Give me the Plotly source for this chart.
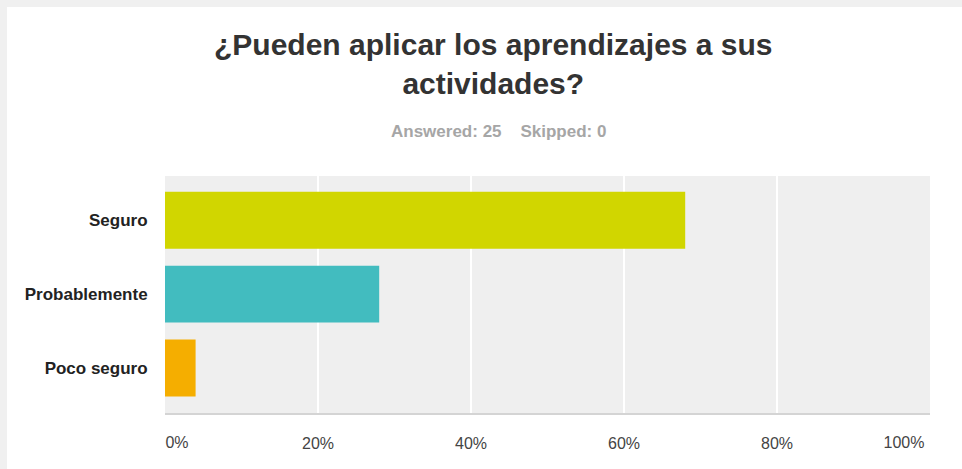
import plotly.graph_objects as go

categories = ["Seguro", "Probablemente", "Poco seguro"]
values = [68, 28, 4]
colors = ["#d1d600", "#42bcbf", "#f5ae00"]
tick_vals = [0, 20, 40, 60, 80, 100]
tick_labels = ["0%", "20%", "40%", "60%", "80%", "100%"]
title_text = "¿Pueden aplicar los aprendizajes a sus<br>actividades?"
subtitle_text = "Answered: 25&nbsp;&nbsp;&nbsp;&nbsp;Skipped: 0"

W, H = 962, 469
L, R, T, B = 165, 32, 176, 56
PW, PH = W - L - R, H - T - B


def px_x(x):
    return (x - L) / PW


def px_y(y):
    return (H - B - y) / PH


FONT = "Liberation Sans, Arial, Helvetica, sans-serif"
XRANGE = [tick_vals[0], tick_vals[-1]]

fig = go.Figure()
fig.add_trace(go.Bar(
    x=values, y=categories, orientation="h",
    marker=dict(color=colors, line=dict(width=0)),
    hoverinfo="x+y",
))
# empty helper traces so that the overlaid label axes get drawn
for ax in ("x2", "x3"):
    fig.add_trace(go.Scatter(x=[None], y=[None], xaxis=ax, yaxis="y",
                             mode="markers", showlegend=False, hoverinfo="skip"))

common_tick = dict(
    ticks="outside", ticklen=15, tickcolor="rgba(0,0,0,0)",
    tickfont=dict(size=16, color="#444"), fixedrange=True,
)

fig.update_layout(
    width=W, height=H,
    margin=dict(l=L, r=R, t=T, b=B, pad=0, autoexpand=False),
    paper_bgcolor="#ffffff",
    plot_bgcolor="#efefef",
    bargap=0.23,
    showlegend=False,
    font=dict(family=FONT, color="#333"),
    xaxis=dict(
        range=XRANGE, tickvals=tick_vals[1:-1], ticktext=tick_labels[1:-1],
        showgrid=True, gridcolor="#ffffff", gridwidth=2,
        zeroline=False, showline=True, linecolor="#d4d4d4", linewidth=2,
        **common_tick,
    ),
    # first label sits right of its tick, last one left of it (as in the reference)
    xaxis2=dict(
        overlaying="x", side="bottom", range=XRANGE,
        tickvals=tick_vals[:1], ticktext=tick_labels[:1], ticklabelshift=12,
        showgrid=False, zeroline=False, showline=False, **common_tick,
    ),
    xaxis3=dict(
        overlaying="x", side="bottom", range=XRANGE,
        tickvals=tick_vals[-1:], ticktext=tick_labels[-1:], ticklabelshift=-26,
        showgrid=False, zeroline=False, showline=False, **common_tick,
    ),
    yaxis=dict(
        categoryorder="array", categoryarray=categories[::-1],
        range=[-0.61, 2.6],
        showgrid=False, zeroline=False, showline=False,
        ticks="outside", ticklen=13, tickcolor="rgba(0,0,0,0)",
        tickfont=dict(size=17, color="#222", family=FONT, weight="bold"),
        fixedrange=True,
    ),
    shapes=[
        dict(type="rect", xref="paper", yref="paper",
             x0=px_x(0), x1=px_x(W), y0=px_y(7), y1=px_y(0),
             fillcolor="#f0f0f0", line=dict(width=0), layer="below"),
        dict(type="rect", xref="paper", yref="paper",
             x0=px_x(0), x1=px_x(7), y0=px_y(H), y1=px_y(0),
             fillcolor="#f0f0f0", line=dict(width=0), layer="below"),
    ],
    annotations=[
        dict(text="<b>" + title_text + "</b>", xref="paper", yref="paper",
             x=px_x(493), y=px_y(64),
             xanchor="center", yanchor="middle", showarrow=False,
             font=dict(size=30, color="#333", family=FONT)),
        dict(text="<b>" + subtitle_text + "</b>", xref="paper", yref="paper",
             x=px_x(498), y=px_y(131),
             xanchor="center", yanchor="middle", showarrow=False,
             font=dict(size=17, color="#a6a6a6", family=FONT)),
    ],
)

fig.write_html(
    "out.html",
    config={"displayModeBar": False},
    post_script="document.body.style.margin='0';document.body.style.background='#ffffff';",
)
